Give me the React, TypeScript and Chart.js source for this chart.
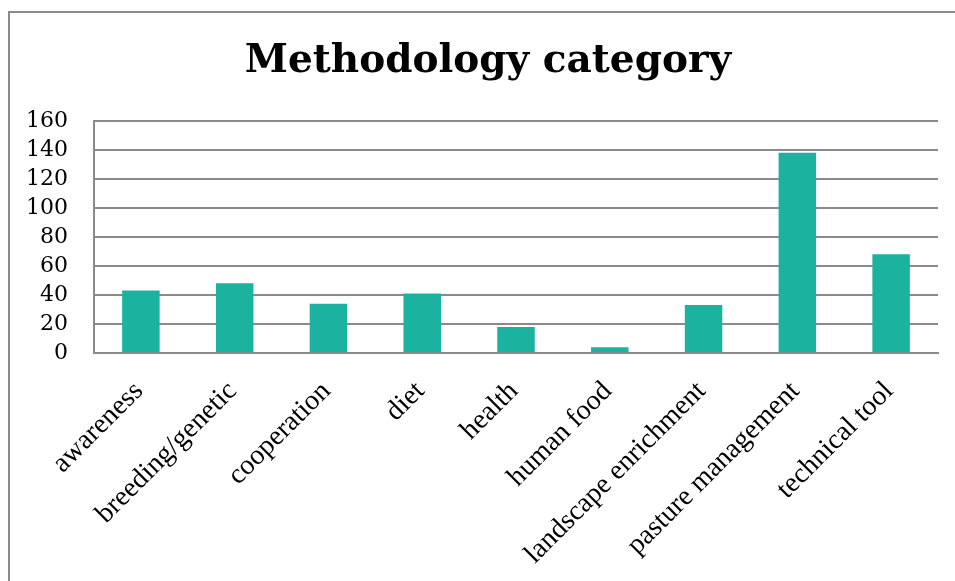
import React, { useEffect, useRef } from "react";
import { Chart, registerables } from "chart.js";

Chart.register(...registerables);

const categories = [
  "awareness",
  "breeding/genetic",
  "cooperation",
  "diet",
  "health",
  "human food",
  "landscape enrichment",
  "pasture management",
  "technical tool",
];
const counts = [43, 48, 34, 41, 18, 4, 33, 138, 68];
const yMin = 0;
const yMax = 160;
const yStep = 20;
const titleText = "Methodology category";

const SERIF = "'Liberation Serif', 'Times New Roman', serif";
const DSERIF = "'DejaVu Serif', serif";
const GRID = "#8a8a8a";
const BAR = "#1bb3a0";

// shifts the title block so it is centred on the framed area, like the original
const titleShift = {
  id: "titleShift",
  afterLayout(chart: any) {
    const t = chart.titleBlock;
    if (t) {
      t.left += 38;
    }
  },
};

export default function App() {
  const ref = useRef<HTMLCanvasElement | null>(null);

  useEffect(() => {
    if (!ref.current) return;
    const chart = new Chart(ref.current, {
      type: "bar",
      data: {
        labels: categories,
        datasets: [
          {
            data: counts,
            backgroundColor: BAR,
            borderWidth: 0,
            barPercentage: 0.4,
            categoryPercentage: 1.0,
          },
        ],
      },
      plugins: [titleShift],
      options: {
        responsive: false,
        animation: false,
        layout: { padding: { left: 0, right: 17, top: 0, bottom: 0 } },
        plugins: {
          legend: { display: false },
          tooltip: { enabled: false },
          title: {
            display: true,
            text: titleText,
            color: "#000",
            font: { family: DSERIF, size: 39, weight: "bold", lineHeight: 1.2 },
            padding: { top: 38, bottom: 36 },
          },
        },
        scales: {
          x: {
            grid: { display: false, drawTicks: false },
            border: { display: true, color: GRID, width: 2 },
            ticks: {
              color: "#000",
              font: { family: SERIF, size: 28 },
              minRotation: 45,
              maxRotation: 45,
              padding: 22,
              labelOffset: -2,
              autoSkip: false,
            },
            afterFit: (scale: any) => {
              scale.height = 228;
            },
          },
          y: {
            min: yMin,
            max: yMax,
            grid: { color: GRID, lineWidth: 2, drawTicks: false },
            border: { display: true, color: GRID, width: 2 },
            ticks: {
              stepSize: yStep,
              autoSkip: false,
              color: "#000",
              font: { family: DSERIF, size: 22 },
              padding: 26,
            },
            afterFit: (scale: any) => {
              scale.width = 94;
            },
          },
        },
      },
    });
    return () => chart.destroy();
  }, []);

  return (
    <>
      <div
        style={{
          position: "fixed",
          left: 8,
          top: 11,
          width: 1000,
          height: 700,
          borderLeft: `2px solid ${GRID}`,
          borderTop: `2px solid ${GRID}`,
          boxSizing: "border-box",
        }}
      />
      <canvas
        ref={ref}
        width={955}
        height={581}
        style={{ position: "fixed", left: 0, top: 0, width: 955, height: 581 }}
      />
    </>
  );
}
